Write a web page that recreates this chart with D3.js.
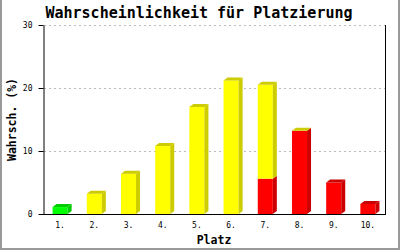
<!DOCTYPE html>
<html lang="de">
<head>
<meta charset="UTF-8" />
<title>Wahrscheinlichkeit für Platzierung</title>
<script src="https://cdn.jsdelivr.net/npm/d3@7/dist/d3.min.js"></script>
<style>
    body { margin: 0; background: #fff; }
    svg { display: block; font-family: "DejaVu Sans Mono", monospace; }
</style>
</head>
<body>
<script>
    // Daten
    const places = ['1.', '2.', '3.', '4.', '5.', '6.', '7.', '8.', '9.', '10.'];
    const red    = [null, null, null, null, null, null, 5.6, 13.2, 5.0, 1.6];
    const yellow = [null, 3.2, 6.4, 10.8, 17.0, 21.2, 14.9, 0, null, null];
    const green  = [1.1, null, null, null, null, null, null, null, null, null];
    const yTicks = [0, 10, 20, 30];

    const series = [
        { name: 'rot',  values: red,    front: '#ff0000', dark: '#cc0000' },
        { name: 'gelb', values: yellow, front: '#ffff00', dark: '#cccc00' },
        { name: 'grün', values: green,  front: '#00ff00', dark: '#00cc00' }
    ];

    const width = 400, height = 250;
    const margin = { left: 43, right: 15, top: 25, bottom: 36 };
    const depthX = 4, depthY = 3;

    const svg = d3.select('body').append('svg')
        .attr('width', width)
        .attr('height', height);

    const x = d3.scaleBand()
        .domain(places)
        .range([margin.left, width - margin.right])
        .paddingInner(0.56)
        .paddingOuter(0.28);

    const y = d3.scaleLinear()
        .domain([0, 30])
        .range([height - margin.bottom, margin.top]);

    // Rahmen links/rechts/unten
    svg.append('path')
        .attr('d', `M1,0V${height - 1}H${width - 1}V0`)
        .attr('fill', 'none')
        .attr('stroke', '#999')
        .attr('stroke-width', 2);

    // Gitterlinien
    svg.append('g')
        .selectAll('line')
        .data(yTicks.filter(d => d > 0))
        .join('line')
        .attr('x1', margin.left + 1)
        .attr('x2', width - margin.right)
        .attr('y1', d => Math.round(y(d)) + 0.5)
        .attr('y2', d => Math.round(y(d)) + 0.5)
        .attr('stroke', '#bbb')
        .attr('stroke-dasharray', '2,3');

    // Stapel berechnen
    const stacks = places.map((p, i) => {
        let acc = 0;
        const segs = [];
        series.forEach(s => {
            const v = s.values[i];
            if (v === null) return;
            segs.push({ place: p, s, y0: acc, y1: acc + v });
            acc += v;
        });
        return { place: p, segs };
    });

    const bars = svg.append('g')
        .selectAll('g')
        .data(stacks)
        .join('g');

    const x0 = d => x(d.place);
    const x1 = d => x(d.place) + x.bandwidth();

    // Vorderseite
    bars.selectAll('rect')
        .data(d => d.segs)
        .join('rect')
        .attr('x', d => x0(d))
        .attr('y', d => y(d.y1))
        .attr('width', x.bandwidth())
        .attr('height', d => y(d.y0) - y(d.y1))
        .attr('fill', d => d.s.front);

    // Seitenfläche
    bars.selectAll('path.side')
        .data(d => d.segs)
        .join('path')
        .attr('class', 'side')
        .attr('d', d => {
            const xr = x1(d), yt = y(d.y1), yb = y(d.y0);
            return `M${xr},${yb}L${xr + depthX},${yb - depthY}L${xr + depthX},${yt - depthY}L${xr},${yt}Z`;
        })
        .attr('fill', d => d.s.dark);

    // Deckfläche (oberstes Segment)
    bars.append('path')
        .datum(d => d.segs[d.segs.length - 1])
        .attr('d', d => {
            const xl = x0(d), xr = x1(d), yt = y(d.y1);
            return `M${xl},${yt}L${xl + depthX},${yt - depthY}L${xr + depthX},${yt - depthY}L${xr},${yt}Z`;
        })
        .attr('fill', d => d.s.dark);

    // y-Achse
    const yAxis = svg.append('g')
        .attr('transform', `translate(${margin.left + 0.5},0)`)
        .call(d3.axisLeft(y).tickValues(yTicks).tickSize(5).tickSizeOuter(0).tickPadding(6));
    yAxis.select('.domain').attr('stroke', '#000');
    yAxis.selectAll('text')
        .attr('font-family', '"DejaVu Sans Mono", monospace')
        .attr('font-size', 8)
        .attr('fill', '#000');

    // rechte Linie
    svg.append('line')
        .attr('x1', width - margin.right + 0.5)
        .attr('x2', width - margin.right + 0.5)
        .attr('y1', y(30))
        .attr('y2', y(0))
        .attr('stroke', '#000');

    // x-Achse
    const xAxis = svg.append('g')
        .attr('transform', `translate(0,${y(0) + 0.5})`)
        .call(d3.axisBottom(x).tickSize(0).tickPadding(8));
    xAxis.select('.domain')
        .attr('d', `M${margin.left},0H${width - margin.right + 1}`)
        .attr('stroke', '#000');
    xAxis.selectAll('text')
        .attr('font-family', '"DejaVu Sans Mono", monospace')
        .attr('font-size', 8)
        .attr('fill', '#000');

    // Titel und Achsentitel
    svg.append('text')
        .attr('x', 199)
        .attr('y', 18)
        .attr('text-anchor', 'middle')
        .attr('font-size', 15)
        .attr('font-weight', 'bold')
        .text('Wahrscheinlichkeit für Platzierung');

    svg.append('text')
        .attr('x', (margin.left + width - margin.right) / 2)
        .attr('y', 244)
        .attr('text-anchor', 'middle')
        .attr('font-size', 11.5)
        .attr('font-weight', 'bold')
        .text('Platz');

    svg.append('text')
        .attr('transform', `translate(16,${(y(0) + y(30)) / 2}) rotate(-90)`)
        .attr('text-anchor', 'middle')
        .attr('font-size', 11.5)
        .attr('font-weight', 'bold')
        .text('Wahrsch. (%)');
</script>
</body>
</html>
